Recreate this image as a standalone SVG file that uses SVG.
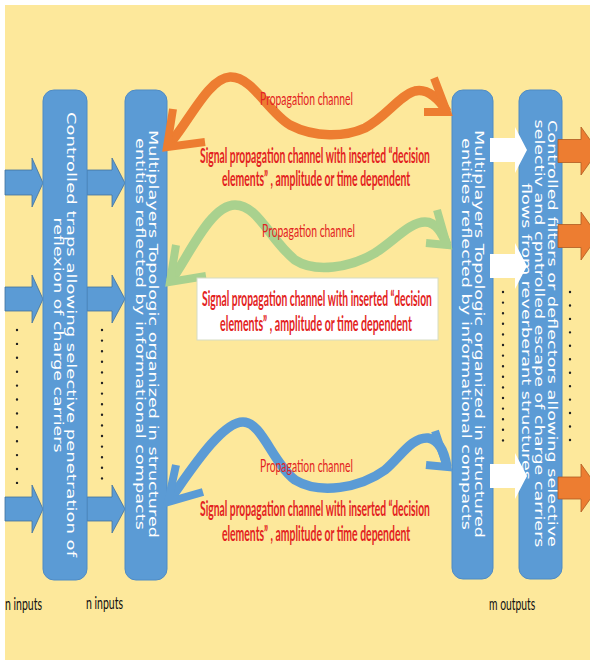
<svg xmlns="http://www.w3.org/2000/svg" width="590" height="660" viewBox="0 0 590 660">
<defs>
<style>
.bg{fill:#FDE89B}
.box{fill:#5B9BD5;stroke:#4F8BC4;stroke-width:1}
.bt{fill:#ffffff;font-family:"DejaVu Sans",Verdana,sans-serif;font-size:11.5px;text-anchor:middle;dominant-baseline:central}
.barrow{fill:#5B9BD5;stroke:#41719C;stroke-width:0.8}
.warrow{fill:#ffffff;stroke:none}
.oarrow{fill:#ED7D31;stroke:#AE5A21;stroke-width:0.8}
.dots{stroke:#222;stroke-width:2.4;stroke-linecap:round;fill:none}
.curve{fill:none;stroke-width:9.5;stroke-linecap:butt;stroke-linejoin:miter}
.head{fill:none;stroke-width:8;stroke-linecap:butt;stroke-linejoin:miter}
.pc{fill:#E32322;font-family:Lato,"Liberation Sans",sans-serif;font-size:18px;text-anchor:middle;dominant-baseline:central}
.sig{fill:#E32322;font-family:Lato,"Liberation Sans",sans-serif;font-size:20px;font-weight:bold;text-anchor:middle;dominant-baseline:central}
.lbl{fill:#111;font-family:Lato,"Liberation Sans",sans-serif;font-size:17px;dominant-baseline:central}
</style>
</defs>
<rect class="bg" x="5" y="5" width="585" height="655"/>

<g id="input-arrows">
<polygon class="barrow" points="5,170 32,170 32,158 43,183 32,207 32,195 5,195"/>
<polygon class="barrow" points="5,287 32,287 32,275 43,299 32,323 32,311 5,311"/>
<polygon class="barrow" points="5,497 32,497 32,485 43,509 32,533 32,521 5,521"/>
<polygon class="barrow" points="87,170 112,170 112,158 125,183 112,207 112,195 87,195"/>
<polygon class="barrow" points="87,287 112,287 112,275 125,299 112,323 112,311 87,311"/>
<polygon class="barrow" points="87,497 112,497 112,485 125,509 112,533 112,521 87,521"/>
</g>

<g id="traps">
<rect class="box" x="43" y="90" width="44" height="490" rx="11"/>
<text class="bt" transform="translate(71,334.5) rotate(90)" textLength="445" lengthAdjust="spacingAndGlyphs">Controlled traps  allowing selective penetration of</text>
<text class="bt" transform="translate(58,335) rotate(90)" textLength="235" lengthAdjust="spacingAndGlyphs">reflexion of charge carriers</text>
</g>

<g id="multiplayers-in">
<rect class="box" x="125" y="90" width="42" height="490" rx="11"/>
<text class="bt" transform="translate(153,334) rotate(90)" textLength="408" lengthAdjust="spacingAndGlyphs">Multiplayers Topologic organized in structured</text>
<text class="bt" transform="translate(139.5,334) rotate(90)" textLength="392" lengthAdjust="spacingAndGlyphs">entities reflected by informational compacts</text>
</g>

<g id="multiplayers-out">
<rect class="box" x="452" y="90" width="41" height="489" rx="11"/>
<text class="bt" transform="translate(479,334) rotate(90)" textLength="408" lengthAdjust="spacingAndGlyphs">Multiplayers Topologic organized in structured</text>
<text class="bt" transform="translate(466,334) rotate(90)" textLength="392" lengthAdjust="spacingAndGlyphs">entities reflected by informational compacts</text>
</g>

<g id="filters">
<rect class="box" x="519" y="90" width="43" height="489" rx="11"/>
<text class="bt" transform="translate(552,333.5) rotate(90)" textLength="427" lengthAdjust="spacingAndGlyphs">Controlled filters or deflectors allowing selective</text>
<text class="bt" transform="translate(539,333.5) rotate(90)" textLength="428" lengthAdjust="spacingAndGlyphs">selectiv and cpntrolled escape of  charge carriers</text>
<text class="bt" transform="translate(526,331.5) rotate(90)" textLength="297" lengthAdjust="spacingAndGlyphs">flows from reverberant structures</text>
</g>

<g id="white-arrows">
<polygon class="warrow" points="490,138 515,138 515,127 527,150 515,173 515,162 490,162"/>
<polygon class="warrow" points="490,254 515,254 515,243 527,266 515,289 515,278 490,278"/>
<polygon class="warrow" points="490,464 515,464 515,453 527,476 515,499 515,488 490,488"/>
</g>

<g id="output-arrows">
<polygon class="oarrow" points="558,139.5 581,139.5 581,127 598,151 581,175 581,162.5 558,162.5"/>
<polygon class="oarrow" points="558,224.5 581,224.5 581,212 598,236 581,260 581,247.5 558,247.5"/>
<polygon class="oarrow" points="558,477 581,477 581,464 598,488 581,512 581,499 558,499"/>
</g>

<g id="ellipsis">
<line class="dots" x1="17" y1="330" x2="17" y2="484" stroke-dasharray="0 13.9"/>
<line class="dots" x1="102" y1="330" x2="102" y2="479" stroke-dasharray="0 10.6"/>
<line class="dots" x1="503" y1="292" x2="503" y2="441" stroke-dasharray="0 10.6"/>
<line class="dots" x1="570" y1="292" x2="570" y2="441" stroke-dasharray="0 13.45"/>
</g>

<g id="connectors">
<path class="curve" stroke="#ED7D31" d="M167,147 C188,124 208,78 230,77 C252,76 268,112 290,125 C315,138 345,137 365,128 C385,118 400,95 415,91 C428,88 440,100 447,112"/>
<polyline class="head" stroke="#ED7D31" points="173,109 167,147 205,142"/>
<polyline class="head" stroke="#ED7D31" points="434,78 447,112 424,112"/>

<path class="curve" stroke="#A9D18E" d="M170,282 C188,258 210,205 235,205 C258,205 270,240 295,260 C315,273 350,268 375,253 C395,240 410,222 425,222 C437,222 443,235 447,245"/>
<polyline class="head" stroke="#A9D18E" points="176,245 170,282 206,276"/>
<polyline class="head" stroke="#A9D18E" points="437,210 447,245 426,243"/>

<path class="curve" stroke="#5B9BD5" d="M168,502 C186,478 220,422 243,422 C262,422 272,462 295,480 C320,495 360,488 385,470 C402,455 412,437 428,438 C440,440 445,455 447,467"/>
<polyline class="head" stroke="#5B9BD5" points="176,465 168,502 203,492"/>
<polyline class="head" stroke="#5B9BD5" points="435,431 447,467 426,465"/>
</g>

<g id="labels-top">
<text class="pc" transform="translate(306.5,98) scale(0.55,1)" textLength="169" lengthAdjust="spacingAndGlyphs">Propagation channel</text>
<text class="sig" transform="translate(315,155) scale(0.52,1)" textLength="442" lengthAdjust="spacingAndGlyphs">Signal propagation channel with inserted “decision</text>
<text class="sig" transform="translate(316,178) scale(0.52,1)" textLength="362" lengthAdjust="spacingAndGlyphs">elements” , amplitude or time dependent</text>
</g>

<g id="labels-middle">
<text class="pc" transform="translate(308.5,230) scale(0.55,1)" textLength="169" lengthAdjust="spacingAndGlyphs">Propagation channel</text>
<rect x="197" y="278" width="241" height="62" fill="#ffffff" stroke="#D6DCC4" stroke-width="1"/>
<text class="sig" transform="translate(317,298) scale(0.52,1)" textLength="442" lengthAdjust="spacingAndGlyphs">Signal propagation channel with inserted “decision</text>
<text class="sig" transform="translate(316,323) scale(0.52,1)" textLength="369" lengthAdjust="spacingAndGlyphs">elements” , amplitude or time dependent</text>
</g>

<g id="labels-bottom">
<text class="pc" transform="translate(306.5,465) scale(0.55,1)" textLength="169" lengthAdjust="spacingAndGlyphs">Propagation channel</text>
<text class="sig" transform="translate(315,508) scale(0.52,1)" textLength="442" lengthAdjust="spacingAndGlyphs">Signal propagation channel with inserted “decision</text>
<text class="sig" transform="translate(316,533) scale(0.52,1)" textLength="362" lengthAdjust="spacingAndGlyphs">elements” , amplitude or time dependent</text>
</g>

<g id="io-labels">
<text class="lbl" transform="translate(5,603) scale(0.57,1)" textLength="65" lengthAdjust="spacingAndGlyphs">n inputs</text>
<text class="lbl" transform="translate(86,602) scale(0.57,1)" textLength="65" lengthAdjust="spacingAndGlyphs">n inputs</text>
<text class="lbl" transform="translate(489,603) scale(0.57,1)" textLength="81" lengthAdjust="spacingAndGlyphs">m outputs</text>
</g>
</svg>
